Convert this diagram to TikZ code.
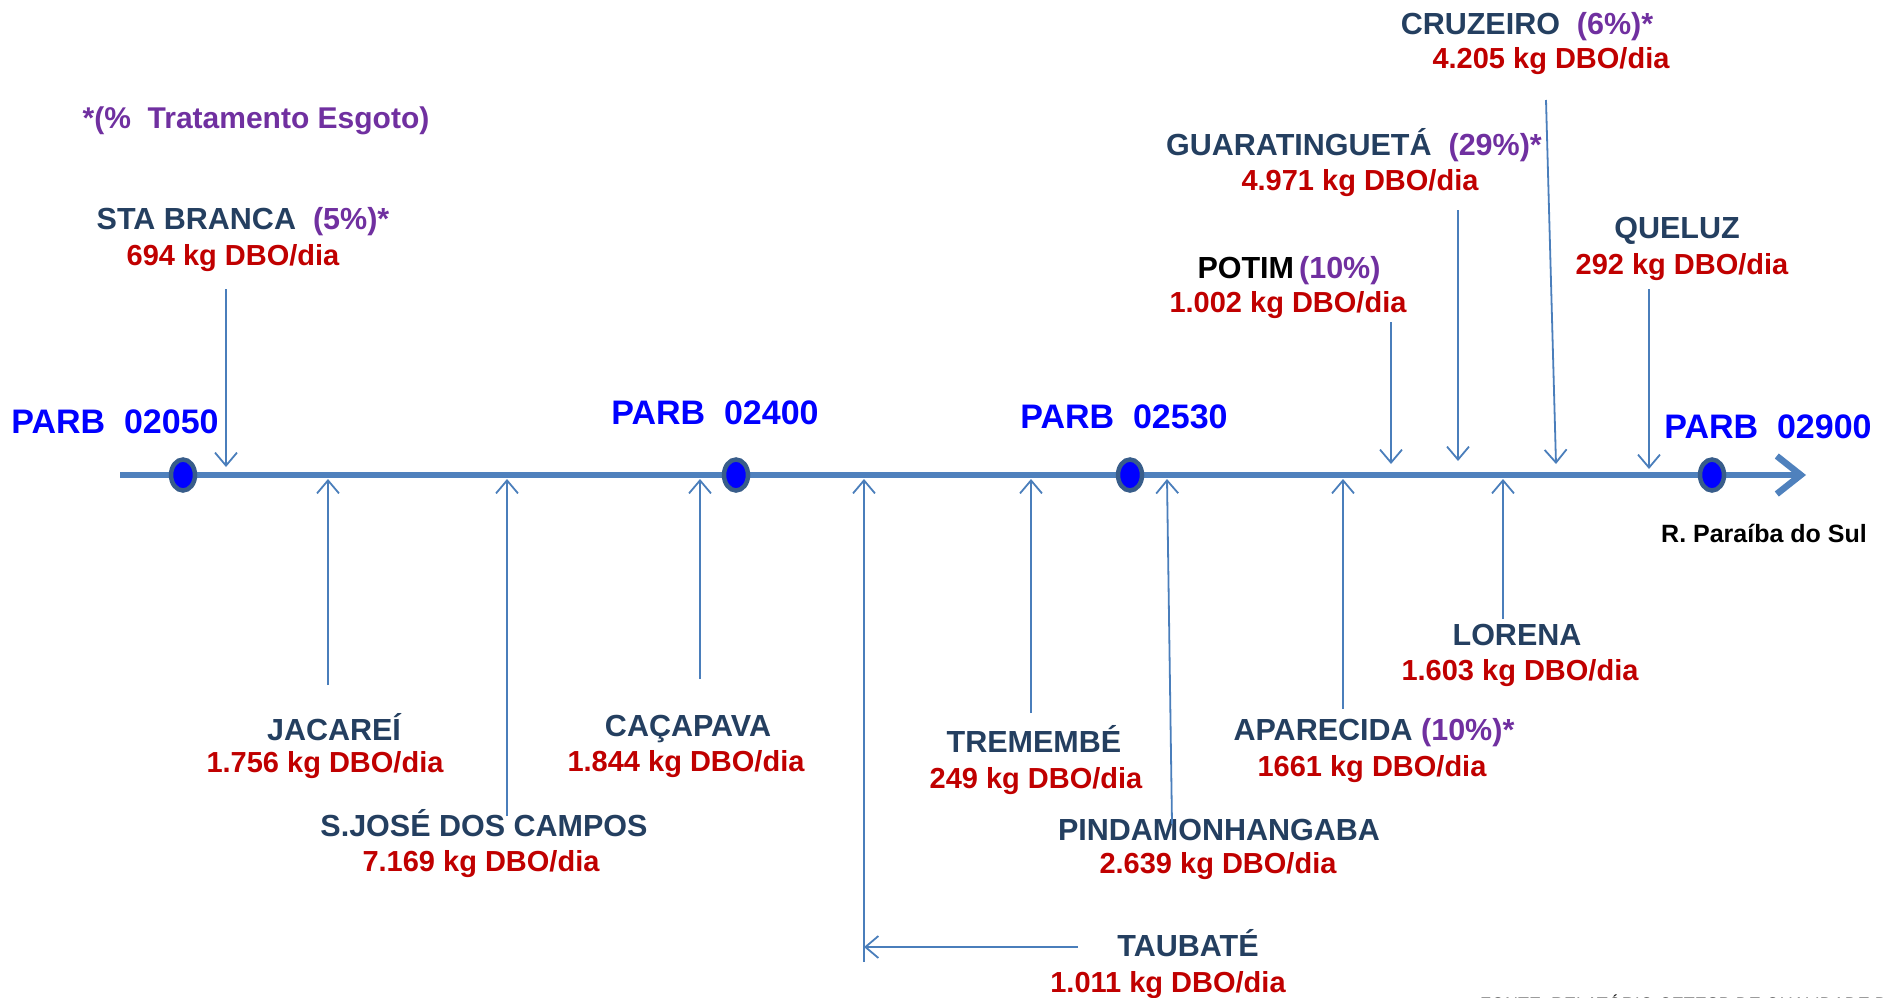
\documentclass[tikz,border=0pt]{standalone}
\usepackage{fontspec}
\setmainfont{Liberation Sans}
\usetikzlibrary{arrows.meta,shapes.geometric}
\definecolor{river}{RGB}{79,129,189}
\definecolor{feedc}{RGB}{74,126,187}
\definecolor{namec}{RGB}{36,63,96}
\definecolor{valc}{RGB}{192,0,0}
\definecolor{pctc}{RGB}{112,48,160}
\definecolor{parbc}{RGB}{0,0,255}
\definecolor{dotb}{RGB}{56,93,138}
\begin{document}
\begin{tikzpicture}[x=1pt,y=-1pt,
  cityname/.style={anchor=base, inner sep=0pt, text=namec, font=\fontsize{30.5}{36}\selectfont\bfseries},
  cityval/.style={anchor=base, inner sep=0pt, text=valc, font=\fontsize{29}{34}\selectfont\bfseries},
  parb/.style={anchor=base, inner sep=0pt, text=parbc, font=\fontsize{34}{40}\selectfont\bfseries},
  station/.style={ellipse, draw=dotb, fill=parbc, line width=4.5pt, minimum width=24pt, minimum height=31pt, inner sep=0pt},
  feed/.style={draw=feedc, line width=1.8pt, -{Straight Barb[length=13pt,width=22pt]}},
  river/.style={draw=river, line width=6.5pt, -{Straight Barb[length=24pt,width=38pt]}},
]
\useasboundingbox (0,0) rectangle (1885,997);

% river axis
\coordinate (rs) at (120,475);
\coordinate (re) at (1806,475);
\draw[river] (rs) -- (re);

% stations
\node[station] (d1) at (183,475) {};
\node[station] (d2) at (736,475) {};
\node[station] (d3) at (1130,475) {};
\node[station] (d4) at (1712,475) {};
\node[parb] (p1) at (115,433) {PARB\ \ 02050};
\node[parb] (p2) at (715,424) {PARB\ \ 02400};
\node[parb] (p3) at (1124,428) {PARB\ \ 02530};
\node[parb] (p4) at (1768,438) {PARB\ \ 02900};
\node[anchor=base, inner sep=0pt, font=\fontsize{25}{30}\selectfont\bfseries] (rname) at (1764,542) {R. Paraíba do Sul};

% legend
\node[anchor=base, inner sep=0pt, text=pctc, font=\fontsize{30}{36}\selectfont\bfseries] (legend) at (256,128) {*(\%\ \ Tratamento Esgoto)};

% upper cities
\node[cityname] (sbN) at (243,229) {STA BRANCA\ \ \textcolor{pctc}{(5\%)*}};
\node[cityval] (sbV) at (233,265) {694 kg DBO/dia};
\node[cityname] (poN) at (1289,278) {\textcolor{black}{POTIM}\,\textcolor{pctc}{(10\%)}};
\node[cityval] (poV) at (1288,312) {1.002 kg DBO/dia};
\node[cityname] (guN) at (1354,155) {GUARATINGUETÁ\ \ \textcolor{pctc}{(29\%)*}};
\node[cityval] (guV) at (1360,190) {4.971 kg DBO/dia};
\node[cityname] (crN) at (1527,34) {CRUZEIRO\ \ \textcolor{pctc}{(6\%)*}};
\node[cityval] (crV) at (1551,68) {4.205 kg DBO/dia};
\node[cityname] (quN) at (1677,238) {QUELUZ};
\node[cityval] (quV) at (1682,274) {292 kg DBO/dia};

% lower cities
\node[cityname] (jaN) at (334,740) {JACAREÍ};
\node[cityval] (jaV) at (325,772) {1.756 kg DBO/dia};
\node[cityname] (sjN) at (484,836) {S.JOSÉ DOS CAMPOS};
\node[cityval] (sjV) at (481,871) {7.169 kg DBO/dia};
\node[cityname] (caN) at (688,736) {CAÇAPAVA};
\node[cityval] (caV) at (686,771) {1.844 kg DBO/dia};
\node[cityname] (taN) at (1188,956) {TAUBATÉ};
\node[cityval] (taV) at (1168,992) {1.011 kg DBO/dia};
\node[cityname] (trN) at (1034,752) {TREMEMBÉ};
\node[cityval] (trV) at (1036,788) {249 kg DBO/dia};
\node[cityname] (piN) at (1219,840) {PINDAMONHANGABA};
\node[cityval] (piV) at (1218,873) {2.639 kg DBO/dia};
\node[cityname] (apN) at (1374,740) {APARECIDA\ \textcolor{pctc}{(10\%)*}};
\node[cityval] (apV) at (1372,776) {1661 kg DBO/dia};
\node[cityname] (loN) at (1517,645) {LORENA};
\node[cityval] (loV) at (1520,680) {1.603 kg DBO/dia};

% source line, cut by the lower edge as in the reference
\begin{scope}
\clip (0,0) rectangle (1885,997);
\node[anchor=base west, inner sep=0pt, font=\fontsize{18}{22}\selectfont] (fonte) at (1480,1010) {FONTE: RELATÓRIO CETESB DE QUALIDADE DAS ÁGUAS};
\end{scope}

% feed coordinates
\coordinate (sbA) at (226,289);  \coordinate (sbB) at (226,467);
\coordinate (poA) at (1391,322); \coordinate (poB) at (1391,464);
\coordinate (guA) at (1458,210); \coordinate (guB) at (1458,461);
\coordinate (crA) at (1546,100); \coordinate (crB) at (1556,464);
\coordinate (quA) at (1649,289); \coordinate (quB) at (1649,469);
\coordinate (jaA) at (328,685);  \coordinate (jaB) at (328,479);
\coordinate (sjA) at (507,816);  \coordinate (sjB) at (507,479);
\coordinate (caA) at (700,679);  \coordinate (caB) at (700,479);
\coordinate (tbA) at (864,962);  \coordinate (tbB) at (864,479);
\coordinate (tbC) at (1078,947); \coordinate (tbD) at (864,947);
\coordinate (trA) at (1031,713); \coordinate (trB) at (1031,479);
\coordinate (piA) at (1172,824); \coordinate (piB) at (1167,479);
\coordinate (apA) at (1343,709); \coordinate (apB) at (1343,479);
\coordinate (loA) at (1503,619); \coordinate (loB) at (1503,479);

\draw[feed] (sbA) -- (sbB);
\draw[feed] (poA) -- (poB);
\draw[feed] (guA) -- (guB);
\draw[feed] (crA) -- (crB);
\draw[feed] (quA) -- (quB);
\draw[feed] (jaA) -- (jaB);
\draw[feed] (sjA) -- (sjB);
\draw[feed] (caA) -- (caB);
\draw[feed] (tbA) -- (tbB);
\draw[feed] (tbC) -- (tbD);
\draw[feed] (trA) -- (trB);
\draw[feed] (piA) -- (piB);
\draw[feed] (apA) -- (apB);
\draw[feed] (loA) -- (loB);
\end{tikzpicture}
\end{document}
